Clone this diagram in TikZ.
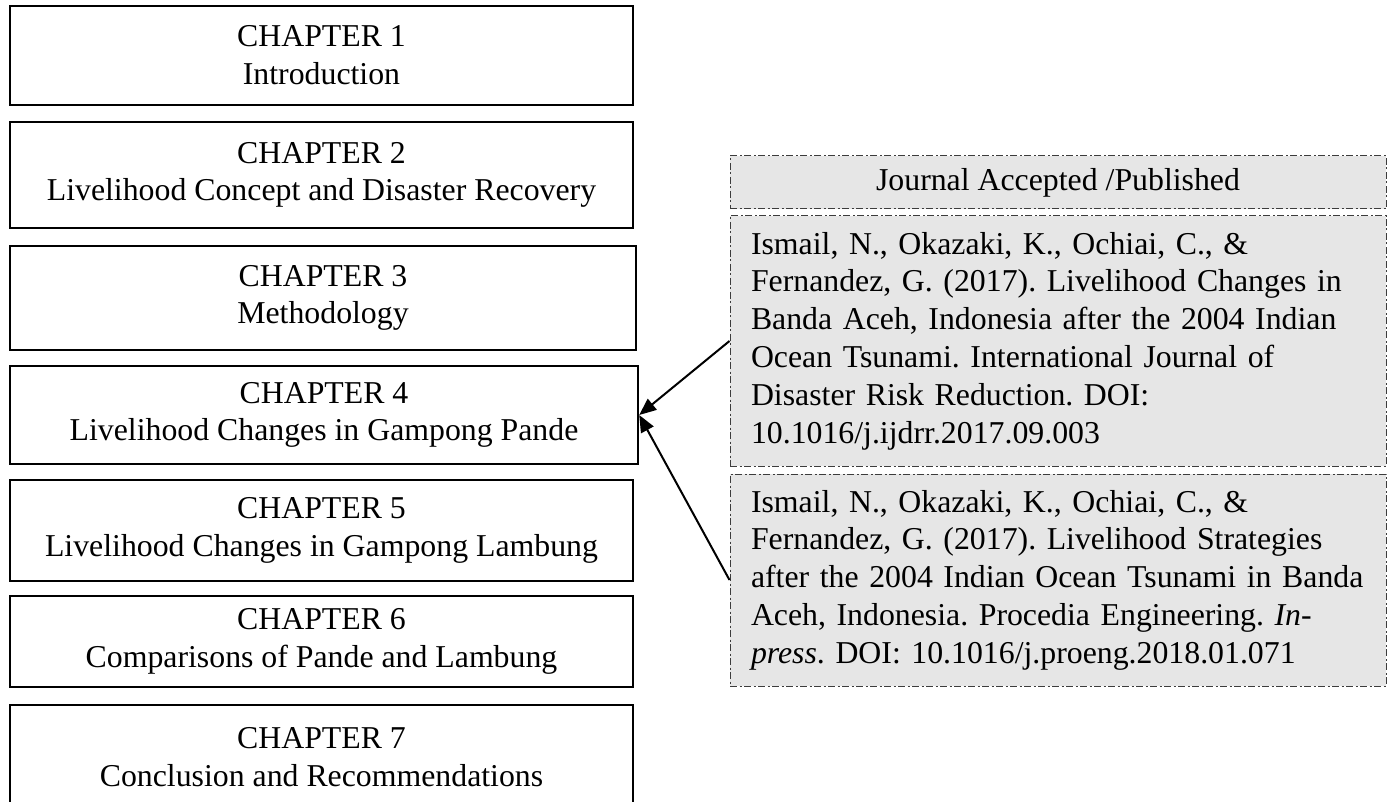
\documentclass[tikz,border=0pt]{standalone}
\usepackage{fontspec}
\setmainfont{Liberation Serif}
\usetikzlibrary{arrows.meta}
\definecolor{citefill}{RGB}{230,230,230}
\definecolor{citeline}{RGB}{60,60,60}
\frenchspacing
\begin{document}
\begin{tikzpicture}[x=1pt, y=-1pt,
  textfont/.style={font=\frenchspacing\fontsize{31.8}{37.8}\selectfont},
  chapterbox/.style={draw=black, line width=2.4pt, inner sep=0pt,
    align=center, minimum width=623pt, textfont},
  citebase/.style={draw=citeline, fill=citefill, line width=1pt,
    dash pattern=on 7pt off 2.5pt on 2pt off 2.5pt,
    inner ysep=0pt, minimum width=656pt, textfont},
  citehead/.style={citebase, inner xsep=0pt, align=center},
  citebox/.style={citebase, inner xsep=21pt, text width=614pt, align=left},
  link/.style={line width=2pt, -{Triangle[length=17pt, width=14pt]}}]

\useasboundingbox (0,0) rectangle (1389,802);
\clip (0,0) rectangle (1389,802);

% chapter outline
\node[chapterbox, minimum height=99pt]  (ch1) at (321.5,55.5) {CHAPTER 1\\Introduction};
\node[chapterbox, minimum height=106pt] (ch2) at (321.5,175)  {CHAPTER 2\\Livelihood Concept and Disaster Recovery};
\node[chapterbox, minimum height=104pt, minimum width=626pt] (ch3) at (323,298) {CHAPTER 3\\Methodology};
\node[chapterbox, minimum height=98pt, minimum width=628pt]  (ch4) at (324,415) {CHAPTER 4\\Livelihood Changes in Gampong Pande};
\node[chapterbox, minimum height=101pt] (ch5) at (321.5,530.5) {CHAPTER 5\\Livelihood Changes in Gampong Lambung};
\node[chapterbox, minimum height=91pt]  (ch6) at (321.5,641.5) {CHAPTER 6\\Comparisons of Pande and Lambung};
\node[chapterbox, minimum height=104pt] (ch7) at (321.5,757)  {CHAPTER 7\\Conclusion and Recommendations};

% publications (each reference line is kept unbroken)
\node[citehead, minimum height=53pt] (jhead) at (1058,182.5) {Journal Accepted /Published};
\node[citebox, minimum height=250pt] (cite1) at (1058,341) {%
\mbox{Ismail, N., Okazaki, K., Ochiai, C., \&}\\
\mbox{Fernandez, G. (2017). Livelihood Changes in}\\
\mbox{Banda Aceh, Indonesia after the 2004 Indian}\\
\mbox{Ocean Tsunami. International Journal of}\\
\mbox{Disaster Risk Reduction. DOI:}\\
\mbox{10.1016/j.ijdrr.2017.09.003}};
\node[citebox, minimum height=212pt] (cite2) at (1058,580) {%
\mbox{Ismail, N., Okazaki, K., Ochiai, C., \&}\\
\mbox{Fernandez, G. (2017). Livelihood Strategies}\\
\mbox{after the 2004 Indian Ocean Tsunami in Banda}\\
\mbox{Aceh, Indonesia. Procedia Engineering. \textit{In-}}\\
\mbox{\textit{press}. DOI: 10.1016/j.proeng.2018.01.071}};

% links to chapter 4
\draw[link] (cite1.west) -- (ch4.east);
\draw[link] (cite2.west) -- (ch4.east);
\end{tikzpicture}
\end{document}
